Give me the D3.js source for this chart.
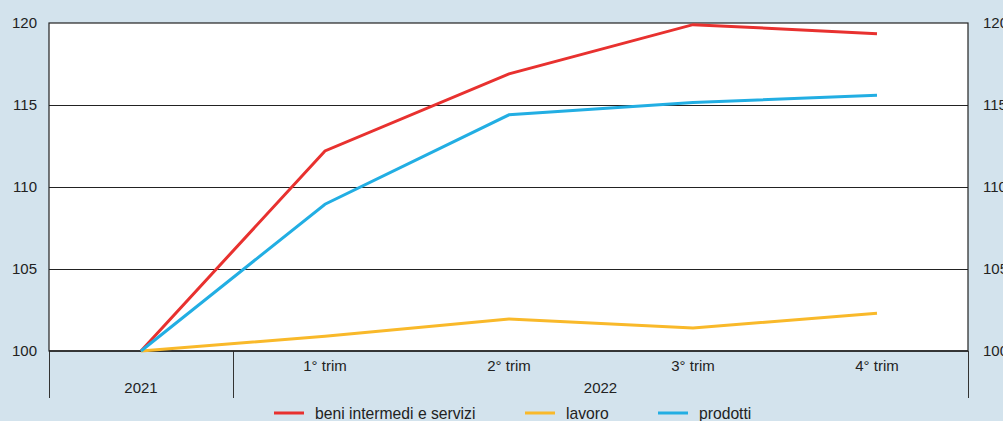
<!DOCTYPE html>
<html>
<head>
<meta charset="utf-8">
<script src="https://cdn.jsdelivr.net/npm/d3@7"></script>
<style>
body { margin: 0; background: #d3e3ed; }
svg { display: block; font-family: "Liberation Sans", Arial, sans-serif; }
</style>
</head>
<body>
<svg width="1003" height="421"></svg>
<script>
// periods along the x axis
var periods = ['2021', '1° trim', '2° trim', '3° trim', '4° trim'];
var quarterLabels = ['', '1° trim', '2° trim', '3° trim', '4° trim'];
var years = [{label: '2021', from: 0, to: 1}, {label: '2022', from: 1, to: 5}];
var yTicks = [100, 105, 110, 115, 120];

// series values (index 2021 = 100)
var beni = [100, 112.2, 116.9, 119.9, 119.35];
var lavoro = [100, 100.9, 101.95, 101.4, 102.3];
var prodotti = [100, 108.95, 114.4, 115.15, 115.6];

var seriesNames = ['beni intermedi e servizi', 'lavoro', 'prodotti'];
var seriesColors = ['#e8312f', '#f9b92a', '#22aee3'];

var series = [beni, lavoro, prodotti];

var pLeft = 49, pRight = 968, pTop = 23, pBottom = 351;

var svg = d3.select('svg');

var x = d3.scaleBand().domain(periods).range([pLeft, pRight + 1]);
var y = d3.scaleLinear().domain([100, 120]).range([pBottom, pTop]);

// plot area
svg.append('rect')
	.attr('x', pLeft).attr('y', pTop)
	.attr('width', pRight - pLeft).attr('height', pBottom - pTop)
	.attr('fill', '#fff')
	.attr('stroke', '#222').attr('stroke-width', 1.2);

// grid lines
svg.selectAll('.grid')
	.data(yTicks.slice(1, -1))
	.enter()
	.append('line')
	.attr('x1', pLeft).attr('x2', pRight)
	.attr('y1', function(d) {return y(d) + 0.5;})
	.attr('y2', function(d) {return y(d) + 0.5;})
	.attr('stroke', '#222').attr('stroke-width', 1);

// y labels both sides
var yl = d3.axisLeft(y).tickValues(yTicks).tickSize(0).tickPadding(12);
var yr = d3.axisRight(y).tickValues(yTicks).tickSize(0).tickPadding(15);
[svg.append('g').attr('transform', 'translate(' + pLeft + ',0)').call(yl),
 svg.append('g').attr('transform', 'translate(' + pRight + ',0)').call(yr)]
	.forEach(function(g) {
		g.select('.domain').remove();
		g.selectAll('text').attr('font-size', 15).attr('fill', '#222')
			.attr('font-family', '"Liberation Sans", Arial, sans-serif')
			.attr('dy', '0.3em');
	});

// category axis separators
var seps = [pLeft, x(periods[1]), pRight];
svg.selectAll('.sep')
	.data(seps)
	.enter()
	.append('line')
	.attr('x1', function(d) {return d + 0.5;}).attr('x2', function(d) {return d + 0.5;})
	.attr('y1', pBottom).attr('y2', 398)
	.attr('stroke', '#333').attr('stroke-width', 1);

// quarter labels
svg.selectAll('.q')
	.data(quarterLabels)
	.enter()
	.append('text')
	.attr('x', function(d, i) {return x(periods[i]) + x.bandwidth() / 2;})
	.attr('y', 371)
	.attr('text-anchor', 'middle')
	.attr('font-size', 15).attr('fill', '#222')
	.text(function(d) {return d;});

// year labels
svg.selectAll('.yr')
	.data(years)
	.enter()
	.append('text')
	.attr('x', function(d) {
		var a = x(periods[d.from]);
		var b = d.to < periods.length ? x(periods[d.to]) : pRight;
		return (a + b) / 2;
	})
	.attr('y', 393)
	.attr('text-anchor', 'middle')
	.attr('font-size', 15).attr('fill', '#222')
	.text(function(d) {return d.label;});

// bottom axis line at 100
svg.append('line')
	.attr('x1', pLeft).attr('x2', pRight)
	.attr('y1', pBottom).attr('y2', pBottom)
	.attr('stroke', '#222').attr('stroke-width', 1.6);

// lines
var line = d3.line()
	.x(function(d, i) {return x(periods[i]) + x.bandwidth() / 2;})
	.y(function(d) {return y(d);});

svg.selectAll('.series')
	.data(series)
	.enter()
	.append('path')
	.attr('d', line)
	.attr('fill', 'none')
	.attr('stroke', function(d, i) {return seriesColors[i];})
	.attr('stroke-width', 3);

// legend
var legX = [274, 525, 658];
var lg = svg.selectAll('.leg')
	.data(seriesNames)
	.enter()
	.append('g')
	.attr('transform', function(d, i) {return 'translate(' + legX[i] + ',413)';});
lg.append('line')
	.attr('x1', 0).attr('x2', 30)
	.attr('stroke', function(d, i) {return seriesColors[i];})
	.attr('stroke-width', 3);
lg.append('text')
	.attr('x', 41).attr('y', 6)
	.attr('font-size', 15.7).attr('fill', '#222')
	.text(function(d) {return d;});
</script>
</body>
</html>
